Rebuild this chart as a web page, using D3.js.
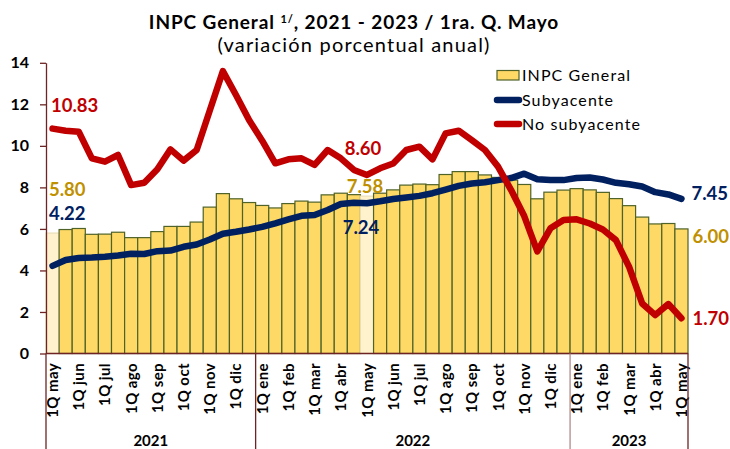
<!DOCTYPE html>
<html>
<head>
<meta charset="utf-8">
<script src="https://cdn.jsdelivr.net/npm/d3@7"></script>
<style>
  body { margin: 0; background: #fff; }
  text { font-family: Lato, "Liberation Sans", sans-serif; }
</style>
</head>
<body>
<script>

// biweekly periods, 1Q may 2021 .. 1Q may 2023
var periods = [
  "2021 1Q may","2021 2Q may","2021 1Q jun","2021 2Q jun","2021 1Q jul","2021 2Q jul","2021 1Q ago","2021 2Q ago",
  "2021 1Q sep","2021 2Q sep","2021 1Q oct","2021 2Q oct","2021 1Q nov","2021 2Q nov","2021 1Q dic","2021 2Q dic",
  "2022 1Q ene","2022 2Q ene","2022 1Q feb","2022 2Q feb","2022 1Q mar","2022 2Q mar","2022 1Q abr","2022 2Q abr",
  "2022 1Q may","2022 2Q may","2022 1Q jun","2022 2Q jun","2022 1Q jul","2022 2Q jul","2022 1Q ago","2022 2Q ago",
  "2022 1Q sep","2022 2Q sep","2022 1Q oct","2022 2Q oct","2022 1Q nov","2022 2Q nov","2022 1Q dic","2022 2Q dic",
  "2023 1Q ene","2023 2Q ene","2023 1Q feb","2023 2Q feb","2023 1Q mar","2023 2Q mar","2023 1Q abr","2023 2Q abr",
  "2023 1Q may"
];
var years = ["2021", "2022", "2023"];
var highlighted = ["2021 1Q may", "2022 1Q may"];

var inpcGeneral = [
  5.80,5.97,6.02,5.74,5.75,5.84,5.58,5.58,5.87,6.12,6.12,6.33,7.05,7.70,7.45,7.27,
  7.13,7.01,7.22,7.34,7.29,7.64,7.72,7.65,7.58,7.72,7.88,8.11,8.16,8.13,8.62,8.76,
  8.76,8.60,8.48,8.35,8.14,7.45,7.77,7.87,
  7.94,7.88,7.76,7.46,7.12,6.57,6.24,6.26,6.00
];
var subyacente = [
  4.22,4.50,4.60,4.62,4.66,4.72,4.80,4.79,4.93,4.96,5.14,5.25,5.49,5.77,5.86,5.97,
  6.10,6.27,6.46,6.63,6.67,6.91,7.20,7.26,7.24,7.33,7.44,7.51,7.59,7.72,7.89,8.07,
  8.19,8.25,8.35,8.45,8.66,8.39,8.35,8.35,
  8.45,8.48,8.38,8.22,8.15,8.04,7.77,7.66,7.45
];
var noSubyacente = [
  10.83,10.73,10.68,9.40,9.24,9.56,8.11,8.22,8.87,9.83,9.29,9.80,11.70,13.60,12.45,11.24,
  10.25,9.16,9.35,9.40,9.08,9.80,9.40,8.84,8.60,8.92,9.15,9.80,9.96,9.35,10.60,10.73,
  10.28,9.80,9.00,7.87,6.62,4.92,6.03,6.43,
  6.46,6.26,5.97,5.46,4.18,2.41,1.85,2.38,1.70
];
var yTicks = [0, 2, 4, 6, 8, 10, 12, 14];

var width = 730, height = 449;
var colGold = "#BF9000", colRed = "#C00000", colNavy = "#002060", colAxis = "#6E2424";

var svg = d3.select("body").append("svg")
    .attr("width", width)
    .attr("height", height);

var x = d3.scaleBand().domain(periods).range([46, 688]).padding(0);
var y = d3.scaleLinear().domain([0, 14]).range([353.5, 62.8]);
var cx = function(p) { return x(p) + x.bandwidth() / 2; };

// title
var title = svg.append("text")
    .attr("x", 354).attr("y", 29)
    .attr("text-anchor", "middle")
    .attr("font-size", 19).attr("font-weight", "bold").attr("fill", "#000")
    .style("letter-spacing", "0.9px");
title.append("tspan").text("INPC General ");
title.append("tspan").attr("font-size", 11).attr("dy", -6).text("1/");
title.append("tspan").attr("dy", 6).text(", 2021 - 2023 / 1ra. Q. Mayo");

svg.append("text")
    .attr("x", 354).attr("y", 52)
    .attr("text-anchor", "middle")
    .attr("font-size", 20).attr("fill", "#000")
    .style("letter-spacing", "1.2px")
    .text("(variación porcentual anual)");

// bars
svg.append("g").selectAll("rect")
    .data(periods)
    .enter().append("rect")
    .attr("x", function(d) { return x(d); })
    .attr("width", x.bandwidth())
    .attr("y", function(d, i) { return y(inpcGeneral[i]); })
    .attr("height", function(d, i) { return y(0) - y(inpcGeneral[i]); })
    .attr("fill", function(d) { return highlighted.includes(d) ? "#FFF2CC" : "#FFD966"; })
    .attr("stroke", function(d) { return highlighted.includes(d) ? "#EADFB8" : "#4F6228"; })
    .attr("stroke-width", 1.2);

// lines
var line = function(vals) {
  return d3.line()
      .x(function(d, i) { return cx(periods[i]); })
      .y(function(d) { return y(d); })(vals);
};
svg.append("path").attr("d", line(subyacente))
    .attr("fill", "none").attr("stroke", colNavy).attr("stroke-width", 6.5)
    .attr("stroke-linejoin", "round").attr("stroke-linecap", "round");
svg.append("path").attr("d", line(noSubyacente))
    .attr("fill", "none").attr("stroke", colRed).attr("stroke-width", 6.5)
    .attr("stroke-linejoin", "round").attr("stroke-linecap", "round");

// y axis
var yAxis = svg.append("g")
    .attr("transform", "translate(46,0)")
    .call(d3.axisLeft(y).tickValues(yTicks).tickSize(6).tickPadding(11).tickSizeOuter(0));
yAxis.select(".domain").attr("stroke", colAxis).attr("stroke-width", 1.3);
yAxis.selectAll(".tick line").attr("stroke", colAxis).attr("stroke-width", 1.3);
yAxis.selectAll(".tick text")
    .attr("font-family", "Lato, sans-serif")
    .attr("font-size", 16).attr("font-weight", "bold").attr("fill", "#000");

// x axis baseline + rotated month labels
svg.append("line")
    .attr("x1", 46).attr("x2", 688).attr("y1", y(0)).attr("y2", y(0))
    .attr("stroke", colAxis).attr("stroke-width", 1.3);

svg.append("g").selectAll("text")
    .data(periods.filter(function(p) { return p.indexOf("1Q") === 5; }))
    .enter().append("text")
    .attr("transform", function(d) { return "translate(" + (cx(d) + 5.5) + ",363) rotate(-90)"; })
    .attr("text-anchor", "end")
    .attr("font-size", 15).attr("font-weight", "bold").attr("fill", "#000")
    .style("letter-spacing", "0.4px")
    .text(function(d) { return d.slice(5); });

// year groups
var groups = years.map(function(yr) {
  var ps = periods.filter(function(p) { return p.slice(0, 4) === yr; });
  return { year: yr, x0: x(ps[0]), x1: x(ps[ps.length - 1]) + x.bandwidth() };
});
var seps = [groups[0].x0].concat(groups.map(function(g) { return g.x1; }));
svg.append("g").selectAll("line")
    .data(seps)
    .enter().append("line")
    .attr("x1", function(d) { return d; }).attr("x2", function(d) { return d; })
    .attr("y1", y(0)).attr("y2", height)
    .attr("stroke", function(d, i) { return i === 2 ? "#B08C8C" : colAxis; })
    .attr("stroke-width", 1.3);
svg.append("g").selectAll("text")
    .data(groups)
    .enter().append("text")
    .attr("x", function(d) { return (d.x0 + d.x1) / 2; })
    .attr("y", 446)
    .attr("text-anchor", "middle")
    .attr("font-size", 15).attr("font-weight", "bold").attr("fill", "#000")
    .text(function(d) { return d.year; });

// value labels
var first = periods[0], mid = periods[24], last = periods[48];
var labels = [
  { t: "10.83", c: colRed,  x: x(first) + 5,  y: y(noSubyacente[0]) - 17, a: "start" },
  { t: "5.80",  c: colGold, x: x(first) + 3,  y: y(inpcGeneral[0]) - 37, a: "start" },
  { t: "4.22",  c: colNavy, x: x(first) + 3,  y: y(subyacente[0]) - 46, a: "start" },
  { t: "8.60",  c: colRed,  x: cx(mid) - 4,   y: y(noSubyacente[24]) - 20, a: "middle" },
  { t: "7.58",  c: colGold, x: cx(mid) - 2,   y: y(inpcGeneral[24]) - 3, a: "middle" },
  { t: "7.24",  c: colNavy, x: cx(mid) - 6,   y: y(subyacente[24]) + 31, a: "middle" },
  { t: "7.45",  c: colNavy, x: cx(last) + 10, y: y(subyacente[48]) + 1, a: "start" },
  { t: "6.00",  c: colGold, x: cx(last) + 11, y: y(inpcGeneral[48]) + 14, a: "start" },
  { t: "1.70",  c: colRed,  x: cx(last) + 11, y: y(noSubyacente[48]) + 7, a: "start" }
];
svg.append("g").selectAll("text")
    .data(labels)
    .enter().append("text")
    .attr("x", function(d) { return d.x; })
    .attr("y", function(d) { return d.y; })
    .attr("text-anchor", function(d) { return d.a; })
    .attr("font-size", 18.5).attr("font-weight", "bold")
    .attr("fill", function(d) { return d.c; })
    .text(function(d) { return d.t; });

// legend
var legend = svg.append("g");
legend.append("rect")
    .attr("x", 497).attr("y", 70.5).attr("width", 22).attr("height", 9.5)
    .attr("fill", "#FFD966").attr("stroke", "#4F6228").attr("stroke-width", 1.2);
[["Subyacente", colNavy, 100], ["No subyacente", colRed, 124]].forEach(function(l) {
  legend.append("line")
      .attr("x1", 497).attr("x2", 519).attr("y1", l[2]).attr("y2", l[2])
      .attr("stroke", l[1]).attr("stroke-width", 6.5).attr("stroke-linecap", "round");
});
[["INPC General", 81], ["Subyacente", 105.5], ["No subyacente", 130]].forEach(function(l) {
  legend.append("text")
      .attr("x", 522).attr("y", l[1])
      .attr("font-size", 16).attr("fill", "#000")
      .style("letter-spacing", "1.1px")
      .text(l[0]);
});

</script>
</body>
</html>
